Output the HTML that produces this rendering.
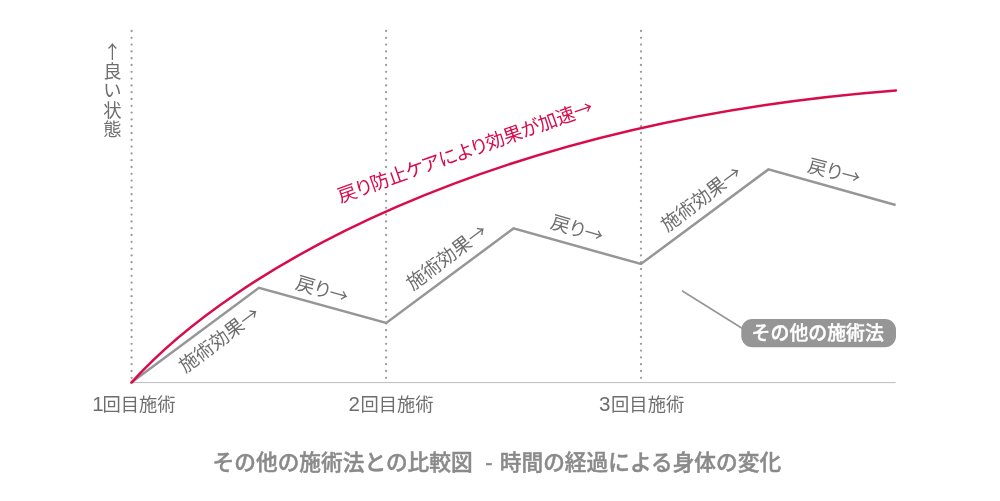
<!DOCTYPE html>
<html lang="ja">
<head>
<meta charset="utf-8">
<title>その他の施術法との比較図</title>
<style>
html,body{margin:0;padding:0;background:#fff;}
body{width:1000px;height:501px;overflow:hidden;position:relative;}
svg{position:absolute;left:0;top:0;display:block;}
text{font-family:"Liberation Sans","Noto Sans CJK JP",sans-serif;}
.dg{font-size:20.5px;}
.lbl{font-size:18.3px;font-weight:400;fill:#6e6e6e;}
.seg{font-size:19px;font-weight:400;fill:#6e6e6e;font-feature-settings:"palt";}
.red{font-size:19px;font-weight:400;font-feature-settings:"palt";letter-spacing:-0.2px;fill:#d80c4a;}
.ttl{font-size:21.7px;font-weight:500;fill:#8a8a8a;stroke:#8a8a8a;stroke-width:0.45px;}
.ar{font-family:"Noto Sans CJK JP",sans-serif;}
.pill{font-size:18.9px;font-weight:500;fill:#fff;stroke:#fff;stroke-width:0.4px;}
</style>
</head>
<body>
<svg width="1000" height="501" viewBox="0 0 1000 501">
  <!-- dotted vertical guides -->
  <g stroke="#9c9c9c" stroke-width="2.3" stroke-linecap="round" stroke-dasharray="0 6.8" fill="none">
    <line x1="131.6" y1="31" x2="131.6" y2="380"/>
    <line x1="386.1" y1="31" x2="386.1" y2="380"/>
    <line x1="641" y1="31" x2="641" y2="380"/>
  </g>
  <!-- baseline -->
  <line x1="131.4" y1="382.6" x2="895.6" y2="382.6" stroke="#bdbdbd" stroke-width="1"/>
  <!-- other methods -->
  <polyline points="131.4,382.6 258.9,287.8 386.2,323 513.5,228.4 640.9,264 768.4,169.4 895.6,205" fill="none" stroke="#969696" stroke-width="2.5" stroke-linejoin="miter"/>
  <!-- our method -->
  <path d="M131.4,382.6 C232.0,270.6 486.1,122.2 896,90.4" fill="none" stroke="#d80c4a" stroke-width="2.5" stroke-linecap="round"/>
  <!-- leader -->
  <line x1="682" y1="290.8" x2="742" y2="328.3" stroke="#969696" stroke-width="1.6"/>
  <rect x="741.3" y="319" width="154.7" height="28.2" rx="11" ry="11" fill="#969696"/>
  <text class="pill" x="751.6" y="340.3">その他の施術法</text>

  <!-- vertical axis label -->
  <text class="lbl" text-anchor="middle"><tspan class="ar" x="112.5" y="59">↑</tspan><tspan x="112.5" y="78">良</tspan><tspan x="112.5" y="97.4">い</tspan><tspan x="112.5" y="116.8">状</tspan><tspan x="112.5" y="136.2">態</tspan></text>

  <!-- x labels -->
  <text class="lbl" x="92.3" y="410.5"><tspan class="dg">1</tspan><tspan dx="-1.3">回目施術</tspan></text>
  <text class="lbl" x="348.4" y="410.5"><tspan class="dg">2</tspan><tspan dx="0.7">回目施術</tspan></text>
  <text class="lbl" x="599" y="410.5"><tspan class="dg">3</tspan><tspan dx="0.7">回目施術</tspan></text>

  <!-- segment labels -->
  <text class="seg" text-anchor="end" transform="translate(261.2,316.4) rotate(-37)">施術効果<tspan class="ar">→</tspan></text>
  <text class="seg" text-anchor="end" transform="translate(488.6,233.8) rotate(-37)">施術効果<tspan class="ar">→</tspan></text>
  <text class="seg" text-anchor="end" transform="translate(743.2,175.2) rotate(-37)">施術効果<tspan class="ar">→</tspan></text>
  <text class="seg" text-anchor="end" transform="translate(346.1,303.8) rotate(16.5)">戻り<tspan class="ar">→</tspan></text>
  <text class="seg" text-anchor="end" transform="translate(601.1,243.1) rotate(16.5)">戻り<tspan class="ar">→</tspan></text>
  <text class="seg" text-anchor="end" transform="translate(858.5,184.9) rotate(14.5)">戻り<tspan class="ar">→</tspan></text>

  <rect x="-271" y="-16.7" width="271" height="19" fill="#fff" transform="translate(594.2,112.6) rotate(-19.6)"/>
  <text class="red" text-anchor="end" transform="translate(594.2,112.6) rotate(-19.6)">戻り防止ケアにより効果が加速<tspan class="ar">→</tspan></text>

  <text class="ttl" x="212.6" y="469.8">その他の施術法との比較図 <tspan x="485.3">-</tspan> <tspan x="499.8">時間の経過による身体の変化</tspan></text>
</svg>
</body>
</html>
